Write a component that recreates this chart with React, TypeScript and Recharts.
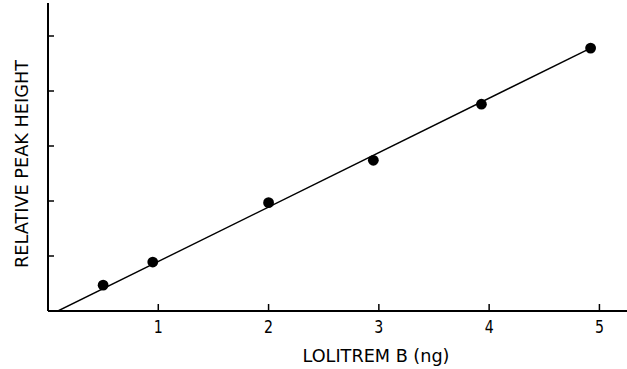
import React from 'react';
import { ComposedChart, Scatter, XAxis, YAxis } from 'recharts';

const xValues = [0.5, 0.95, 2.0, 2.95, 3.93, 4.92];
const yValues = [0.47, 0.89, 1.97, 2.74, 3.76, 4.78];
const fitX = [0.09, 4.93];
const fitY = [0, 4.79];
const xTicks = [1, 2, 3, 4, 5];
const yTicks = [1, 2, 3, 4, 5];
const xTitle = 'LOLITREM B  (ng)';
const yTitle = 'RELATIVE PEAK HEIGHT';

const points = xValues.map((x, i) => ({ x, y: yValues[i] }));
const fit = fitX.map((x, i) => ({ x, y: fitY[i] }));

const FONT = '"DejaVu Sans", sans-serif';

const XTick = (props: any) => {
  const { x, y, payload } = props;
  return (
    <g>
      <line x1={x} x2={x} y1={y} y2={y - 7} stroke="#000" strokeWidth={1.5} />
      <text
        x={x}
        y={y + 22}
        textAnchor="middle"
        fontFamily={FONT}
        fontSize={18}
        textLength={9}
        lengthAdjust="spacingAndGlyphs"
        fill="#000"
      >
        {payload.value}
      </text>
    </g>
  );
};

const YTick = (props: any) => {
  const { x, y } = props;
  return <line x1={x} x2={x + 6} y1={y} y2={y} stroke="#000" strokeWidth={1.5} />;
};

export default function App() {
  return (
    <div style={{ position: 'absolute', left: 0, top: 0, background: '#fff' }}>
      <ComposedChart width={627} height={369} margin={{ top: 3, right: 0, left: 18, bottom: 28 }}>
        <XAxis
          type="number"
          dataKey="x"
          domain={[0, 5.25]}
          ticks={xTicks}
          height={30}
          tickSize={0}
          tickMargin={0}
          tickLine={false}
          tick={<XTick />}
          axisLine={{ stroke: '#000', strokeWidth: 2 }}
          allowDataOverflow
          label={{
            content: () => (
              <text
                x={376}
                y={362}
                textAnchor="middle"
                fontFamily={FONT}
                fontSize={18}
                textLength={147}
                lengthAdjust="spacingAndGlyphs"
                fill="#000"
              >
                {xTitle}
              </text>
            ),
          }}
        />
        <YAxis
          type="number"
          dataKey="y"
          domain={[0, 5.6]}
          ticks={yTicks}
          width={30}
          tickSize={0}
          tickMargin={0}
          tickLine={false}
          tick={<YTick />}
          axisLine={{ stroke: '#000', strokeWidth: 2 }}
          allowDataOverflow
          label={{
            content: () => (
              <text
                x={28}
                y={164}
                textAnchor="middle"
                transform="rotate(-90 28 164)"
                fontFamily={FONT}
                fontSize={18}
                textLength={208}
                lengthAdjust="spacingAndGlyphs"
                fill="#000"
              >
                {yTitle}
              </text>
            ),
          }}
        />
        <Scatter
          data={fit}
          line={{ stroke: '#000', strokeWidth: 1.4 }}
          shape={() => null}
          isAnimationActive={false}
        />
        <Scatter
          data={points}
          fill="#000"
          shape={(p: any) => <circle cx={p.cx} cy={p.cy} r={5.4} fill="#000" />}
          isAnimationActive={false}
        />
      </ComposedChart>
    </div>
  );
}
